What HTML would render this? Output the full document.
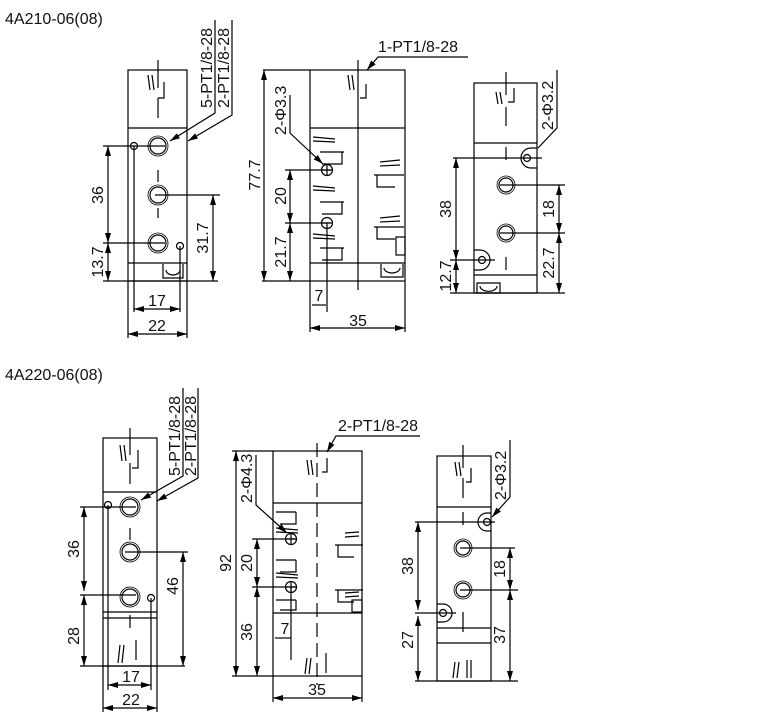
<!DOCTYPE html>
<html><head><meta charset="utf-8"><style>
html,body{margin:0;padding:0;background:#fff;}
svg{display:block;}
text{font-family:"Liberation Sans",sans-serif;font-size:16px;fill:#111;}
</style></head><body>
<svg width="761" height="717" viewBox="0 0 761 717" xmlns="http://www.w3.org/2000/svg">
<defs>
<marker id="a" viewBox="0 0 10 6" refX="10" refY="3" markerWidth="10" markerHeight="6" markerUnits="userSpaceOnUse" orient="auto-start-reverse"><path d="M0,0 L10,3 L0,6 z" fill="#000"/></marker>
</defs>
<g stroke="#000" stroke-width="1.2" fill="none">

<!-- ===== TOP A ===== -->
<rect x="128" y="70" width="59" height="211"/>
<line x1="128" y1="128" x2="187" y2="128"/>
<line x1="128" y1="263" x2="187" y2="263"/>
<line x1="158" y1="60" x2="158" y2="88"/><line x1="158" y1="98" x2="158" y2="118"/>
<path d="M148 75 l2 15 M152 75 l2 15 M164 82 v16 h-6"/>
<circle cx="158" cy="146" r="8"/><circle cx="158" cy="146" r="10" stroke-width="0.8"/>
<circle cx="158" cy="195" r="8"/><circle cx="158" cy="195" r="10" stroke-width="0.8"/>
<circle cx="158" cy="243" r="8"/><circle cx="158" cy="243" r="10" stroke-width="0.8"/>
<line x1="158" y1="170" x2="158" y2="182"/><line x1="158" y1="208" x2="158" y2="218"/>
<circle cx="134" cy="146" r="3.5"/><circle cx="180" cy="246" r="3.5"/>
<path d="M163 264 v14 h20 v-14 M166 270 a7 5 0 0 0 14 0"/>
<line x1="103" y1="146" x2="165" y2="146"/>
<line x1="155" y1="195" x2="220" y2="195"/>
<line x1="103" y1="243" x2="165" y2="243"/>
<line x1="103" y1="281" x2="218" y2="281"/>
<line x1="134" y1="146" x2="134" y2="312"/>
<line x1="180" y1="246" x2="180" y2="312"/>
<line x1="128" y1="281" x2="128" y2="338"/><line x1="187" y1="281" x2="187" y2="338"/>
<line x1="108" y1="146" x2="108" y2="243" marker-start="url(#a)" marker-end="url(#a)"/>
<line x1="108" y1="243" x2="108" y2="281" marker-start="url(#a)" marker-end="url(#a)"/>
<line x1="213" y1="195" x2="213" y2="281" marker-start="url(#a)" marker-end="url(#a)"/>
<line x1="134" y1="309" x2="180" y2="309" marker-start="url(#a)" marker-end="url(#a)"/>
<line x1="128" y1="334" x2="187" y2="334" marker-start="url(#a)" marker-end="url(#a)"/>
<path d="M215 20 V113 L170 141" marker-end="url(#a)"/>
<path d="M232 20 V115 L188 141" marker-end="url(#a)"/>

<!-- ===== TOP B ===== -->
<rect x="310" y="70" width="95" height="211"/>
<line x1="310" y1="128" x2="405" y2="128"/>
<line x1="310" y1="263" x2="405" y2="263"/>
<line x1="358" y1="60" x2="358" y2="290"/>
<line x1="263" y1="70" x2="310" y2="70"/>
<path d="M348 75 l2 15 M352 75 l2 15 M366 84 v14 h-6"/>
<path d="M313 137 l22 2 M313 141 l22 1 M320 152 h24 M342 152 v12 h-20 M313 186 l22 2 M313 190 l22 1 M320 202 h24 M342 202 v12 h-20 M313 234 l22 2 M313 238 l22 1 M320 248 h24 M342 248 v12 h-20"/>
<path d="M380 162 l20 -2 M380 166 l20 -1 M374 175 h30 M377 175 v12 h18 M380 218 l20 -2 M380 222 l20 -1 M374 227 h30 M377 227 v12 h18"/>
<rect x="396" y="237" width="9" height="18"/>
<path d="M381 264 v13 h22 v-13 M384 268 a8 5 0 0 0 16 0"/>
<circle cx="327" cy="170" r="5.5"/><line x1="321" y1="170" x2="333" y2="170"/><line x1="327" y1="164" x2="327" y2="176"/>
<circle cx="327" cy="223" r="5.5"/><line x1="321" y1="223" x2="333" y2="223"/>
<line x1="285" y1="170" x2="333" y2="170"/>
<line x1="285" y1="223" x2="330" y2="223"/>
<line x1="262" y1="281" x2="310" y2="281"/>
<line x1="327" y1="223" x2="327" y2="312"/>
<line x1="310" y1="281" x2="310" y2="332"/><line x1="405" y1="281" x2="405" y2="332"/>
<line x1="264" y1="70" x2="264" y2="281" marker-start="url(#a)" marker-end="url(#a)"/>
<line x1="290" y1="170" x2="290" y2="223" marker-start="url(#a)" marker-end="url(#a)"/>
<line x1="290" y1="223" x2="290" y2="281" marker-start="url(#a)" marker-end="url(#a)"/>
<line x1="312" y1="305" x2="326" y2="305"/>
<line x1="310" y1="328" x2="405" y2="328" marker-start="url(#a)" marker-end="url(#a)"/>
<path d="M290 95 V133 L323 164" marker-end="url(#a)"/>
<path d="M468 57 H378 L367 70" marker-end="url(#a)"/>

<!-- ===== TOP C ===== -->
<rect x="474" y="83" width="63" height="210"/>
<line x1="474" y1="143" x2="537" y2="143"/>
<line x1="474" y1="275" x2="537" y2="275"/>
<line x1="506" y1="72" x2="506" y2="95"/><line x1="506" y1="107" x2="506" y2="126"/><line x1="506" y1="147" x2="506" y2="160"/><line x1="506" y1="257" x2="506" y2="270"/>
<path d="M496 92 l2 12 M500 92 l2 12 M514 88 v14 h-6"/>
<circle cx="506" cy="185" r="7"/><circle cx="506" cy="185" r="9" stroke-width="0.8"/>
<circle cx="506" cy="233" r="7"/><circle cx="506" cy="233" r="9" stroke-width="0.8"/>
<circle cx="527" cy="158" r="3.5"/><path d="M537 148 h-6 a10 10 0 0 0 0 20 h6"/>
<circle cx="482" cy="260" r="3.5"/><path d="M474 250 h6 a10 10 0 0 1 0 20 h-6"/>
<path d="M477 283 v10 h23 v-10 z M480 286 a8 5 0 0 0 17 0"/>
<line x1="453" y1="158" x2="542" y2="158"/>
<line x1="500" y1="185" x2="565" y2="185"/>
<line x1="500" y1="233" x2="565" y2="233"/>
<line x1="450" y1="260" x2="495" y2="260"/>
<line x1="450" y1="293" x2="565" y2="293"/>
<line x1="456" y1="158" x2="456" y2="260" marker-start="url(#a)" marker-end="url(#a)"/>
<line x1="456" y1="260" x2="456" y2="293" marker-start="url(#a)" marker-end="url(#a)"/>
<line x1="559" y1="185" x2="559" y2="233" marker-start="url(#a)" marker-end="url(#a)"/>
<line x1="559" y1="233" x2="559" y2="293" marker-start="url(#a)" marker-end="url(#a)"/>
<path d="M557 70 V128 L538 148"/>

<!-- ===== BOTTOM A ===== -->
<rect x="103" y="438" width="54" height="228"/>
<line x1="103" y1="492" x2="157" y2="492"/>
<line x1="103" y1="612" x2="157" y2="612"/>
<line x1="103" y1="618" x2="157" y2="618"/>
<line x1="130" y1="428" x2="130" y2="455"/><line x1="130" y1="463" x2="130" y2="484"/>
<path d="M120 445 l2 16 M124 445 l2 16 M138 450 v18 h-6"/>
<path d="M120 645 l-2 18 M124 645 l-2 18 M136 640 v20"/>
<circle cx="130" cy="507" r="8"/><circle cx="130" cy="507" r="10" stroke-width="0.8"/>
<circle cx="130" cy="552" r="8"/><circle cx="130" cy="552" r="10" stroke-width="0.8"/>
<circle cx="130" cy="597" r="8"/><circle cx="130" cy="597" r="10" stroke-width="0.8"/>
<line x1="130" y1="528" x2="130" y2="540"/><line x1="130" y1="615" x2="130" y2="628"/>
<circle cx="108" cy="505" r="3.5"/><circle cx="151" cy="598" r="3.5"/>
<line x1="80" y1="507" x2="136" y2="507"/>
<line x1="125" y1="552" x2="188" y2="552"/>
<line x1="80" y1="595" x2="136" y2="595"/>
<line x1="80" y1="666" x2="185" y2="666"/>
<line x1="108" y1="505" x2="108" y2="690"/>
<line x1="151" y1="598" x2="151" y2="690"/>
<line x1="103" y1="666" x2="103" y2="712"/><line x1="157" y1="666" x2="157" y2="712"/>
<line x1="84" y1="507" x2="84" y2="591" marker-start="url(#a)" marker-end="url(#a)"/>
<line x1="84" y1="595" x2="84" y2="666" marker-start="url(#a)" marker-end="url(#a)"/>
<line x1="183" y1="552" x2="183" y2="666" marker-start="url(#a)" marker-end="url(#a)"/>
<line x1="108" y1="685" x2="151" y2="685" marker-start="url(#a)" marker-end="url(#a)"/>
<line x1="103" y1="708" x2="157" y2="708" marker-start="url(#a)" marker-end="url(#a)"/>
<path d="M183 388 V476 L141 500" marker-end="url(#a)"/>
<path d="M198 388 V478 L157 501" marker-end="url(#a)"/>

<!-- ===== BOTTOM B ===== -->
<rect x="273" y="451" width="89" height="225"/>
<line x1="273" y1="503" x2="362" y2="503"/>
<line x1="273" y1="613" x2="362" y2="613"/>
<line x1="317" y1="443" x2="317" y2="685" stroke-dasharray="14,6"/>
<line x1="232" y1="451" x2="273" y2="451"/>
<path d="M307 460 l2 15 M311 460 l2 15 M327 458 v14 h-5"/>
<path d="M307 658 l-2 16 M311 658 l-2 16 M326 653 v20"/>
<path d="M276 512 h20 M296 512 v12 h-16 M276 528 l22 2 M276 532 l22 1 M276 560 h20 M296 560 v12 h-16 M276 573 l22 2 M276 577 l22 1 M276 600 h20 M296 600 v10 h-16"/>
<path d="M345 533 l14 -1 M345 537 l14 -1 M335 545 h28 M338 545 v12 h16 M345 593 l14 -1 M345 597 l14 -1 M335 590 h28 M338 590 v12 h16"/>
<rect x="352" y="600" width="10" height="12"/>
<circle cx="291" cy="539" r="5.5"/><line x1="285" y1="539" x2="297" y2="539"/><line x1="291" y1="533" x2="291" y2="545"/>
<circle cx="291" cy="587" r="5.5"/><line x1="285" y1="587" x2="297" y2="587"/><line x1="291" y1="581" x2="291" y2="593"/>
<line x1="252" y1="539" x2="297" y2="539"/>
<line x1="252" y1="587" x2="297" y2="587"/>
<line x1="232" y1="676" x2="273" y2="676"/>
<line x1="291" y1="587" x2="291" y2="660"/>
<line x1="275" y1="638" x2="291" y2="638"/>
<line x1="273" y1="676" x2="273" y2="702"/><line x1="362" y1="676" x2="362" y2="702"/>
<line x1="236" y1="451" x2="236" y2="676" marker-start="url(#a)" marker-end="url(#a)"/>
<line x1="257" y1="539" x2="257" y2="587" marker-start="url(#a)" marker-end="url(#a)"/>
<line x1="257" y1="587" x2="257" y2="676" marker-start="url(#a)" marker-end="url(#a)"/>
<line x1="273" y1="698" x2="362" y2="698" marker-start="url(#a)" marker-end="url(#a)"/>
<path d="M256 455 V505 L287 533" marker-end="url(#a)"/>
<path d="M420 436 H336 L327 452" marker-end="url(#a)"/>

<!-- ===== BOTTOM C ===== -->
<rect x="437" y="456" width="54" height="225"/>
<line x1="437" y1="507" x2="491" y2="507"/>
<line x1="437" y1="628" x2="491" y2="628"/>
<line x1="437" y1="643" x2="491" y2="643"/>
<line x1="463" y1="445" x2="463" y2="468"/><line x1="463" y1="478" x2="463" y2="498"/><line x1="463" y1="512" x2="463" y2="525"/><line x1="463" y1="612" x2="463" y2="632"/>
<path d="M455 462 l2 14 M459 462 l2 14 M471 468 v14 h-5"/>
<path d="M455 662 l-2 16 M459 662 l-2 16 M471 660 v18 M467 660 v18"/>
<circle cx="463" cy="548" r="7"/><circle cx="463" cy="548" r="9" stroke-width="0.8"/>
<circle cx="463" cy="590" r="7"/><circle cx="463" cy="590" r="9" stroke-width="0.8"/>
<circle cx="487" cy="522" r="3.5"/><path d="M491 513 h-4 a9 9 0 0 0 0 18 h4"/>
<circle cx="443" cy="613" r="3.5"/><path d="M437 604 h6 a9 9 0 0 1 0 18 h-6"/>
<line x1="415" y1="522" x2="495" y2="522"/>
<line x1="460" y1="548" x2="515" y2="548"/>
<line x1="460" y1="590" x2="518" y2="590"/>
<line x1="415" y1="613" x2="456" y2="613"/>
<line x1="415" y1="681" x2="518" y2="681"/>
<line x1="418" y1="522" x2="418" y2="610" marker-start="url(#a)" marker-end="url(#a)"/>
<line x1="418" y1="616" x2="418" y2="681" marker-start="url(#a)" marker-end="url(#a)"/>
<line x1="510" y1="548" x2="510" y2="590" marker-start="url(#a)" marker-end="url(#a)"/>
<line x1="510" y1="590" x2="510" y2="681" marker-start="url(#a)" marker-end="url(#a)"/>
<path d="M510 440 V497 L492 517" marker-end="url(#a)"/>
</g>

<!-- text -->
<text x="5" y="24" style="font-size:16px">4A210-06(08)</text>
<text x="5" y="380" style="font-size:16px">4A220-06(08)</text>

<text transform="translate(212,108) rotate(-90)">5-PT1/8-28</text>
<text transform="translate(229,108) rotate(-90)">2-PT1/8-28</text>
<text transform="translate(103,195) rotate(-90)" text-anchor="middle">36</text>
<text transform="translate(103,262) rotate(-90)" text-anchor="middle">13.7</text>
<text transform="translate(208,238) rotate(-90)" text-anchor="middle">31.7</text>
<text x="157" y="306" text-anchor="middle">17</text>
<text x="157" y="331" text-anchor="middle">22</text>

<text x="378" y="52">1-PT1/8-28</text>
<text transform="translate(286,135) rotate(-90)">2-Φ3.3</text>
<text transform="translate(260,175) rotate(-90)" text-anchor="middle">77.7</text>
<text transform="translate(286,196) rotate(-90)" text-anchor="middle">20</text>
<text transform="translate(286,252) rotate(-90)" text-anchor="middle">21.7</text>
<text x="319" y="301" text-anchor="middle">7</text>
<text x="358" y="326" text-anchor="middle">35</text>

<text transform="translate(553,130) rotate(-90)">2-Φ3.2</text>
<text transform="translate(451,209) rotate(-90)" text-anchor="middle">38</text>
<text transform="translate(451,276) rotate(-90)" text-anchor="middle">12.7</text>
<text transform="translate(554,209) rotate(-90)" text-anchor="middle">18</text>
<text transform="translate(554,263) rotate(-90)" text-anchor="middle">22.7</text>

<text transform="translate(180,476) rotate(-90)">5-PT1/8-28</text>
<text transform="translate(196,476) rotate(-90)">2-PT1/8-28</text>
<text transform="translate(79,549) rotate(-90)" text-anchor="middle">36</text>
<text transform="translate(79,636) rotate(-90)" text-anchor="middle">28</text>
<text transform="translate(178,586) rotate(-90)" text-anchor="middle">46</text>
<text x="131" y="682" text-anchor="middle">17</text>
<text x="131" y="705" text-anchor="middle">22</text>

<text x="338" y="431">2-PT1/8-28</text>
<text transform="translate(252,503) rotate(-90)">2-Φ4.3</text>
<text transform="translate(231,563) rotate(-90)" text-anchor="middle">92</text>
<text transform="translate(252,563) rotate(-90)" text-anchor="middle">20</text>
<text transform="translate(252,632) rotate(-90)" text-anchor="middle">36</text>
<text x="285" y="634" text-anchor="middle">7</text>
<text x="317" y="695" text-anchor="middle">35</text>

<text transform="translate(506,500) rotate(-90)">2-Φ3.2</text>
<text transform="translate(413,566) rotate(-90)" text-anchor="middle">38</text>
<text transform="translate(413,640) rotate(-90)" text-anchor="middle">27</text>
<text transform="translate(505,569) rotate(-90)" text-anchor="middle">18</text>
<text transform="translate(505,635) rotate(-90)" text-anchor="middle">37</text>
</svg>
</body></html>
